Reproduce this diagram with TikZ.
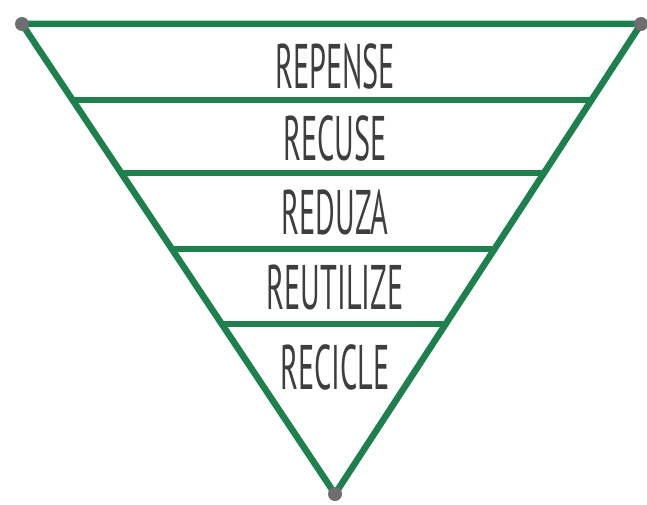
\documentclass[tikz,border=0pt]{standalone}
\usepackage{fontspec}
\newfontfamily\handfont{PT Sans}
\usetikzlibrary{calc}
\definecolor{levelgreen}{RGB}{30,128,76}
\definecolor{dotgray}{RGB}{110,110,112}
\definecolor{inkgray}{RGB}{62,62,64}
\begin{document}
\begin{tikzpicture}[x=1pt, y=1pt]
    \tikzset{
        edgestyle/.style={levelgreen, line width=6.5pt, line cap=round, line join=round},
        dotstyle/.style={circle, fill=dotgray, minimum size=14pt, inner sep=0pt},
        wordtext/.style={inkgray, inner sep=0pt, font=\handfont\fontsize{63}{63}\selectfont, xscale=0.48, transform shape}
    }
    \useasboundingbox (0,0) rectangle (647,504);

    % --- 1. TRIANGLE ---
    \coordinate (tl) at (22,480);
    \coordinate (tr) at (641,480);
    \coordinate (bt) at (335,10);
    \draw[edgestyle] (tl) -- (tr) -- (bt) -- cycle;

    % Niveaux
    \foreach \t in {0.162,0.317,0.479,0.638} {
        \draw[edgestyle] ($(tl)!\t!(bt)$) -- ($(tr)!\t!(bt)$);
    }

    % --- 2. TEXTES ---
    \foreach \n/\y/\w in {repense/438/REPENSE, recuse/366/RECUSE, reduza/292/REDUZA, reutilize/217/REUTILIZE, recicle/137/RECICLE} {
        \node[wordtext] (\n) at (335,\y) {\w};
    }

    % Sommets
    \node[dotstyle] (dtl) at (tl) {};
    \node[dotstyle] (dtr) at (tr) {};
    \node[dotstyle] (dbt) at (bt) {};
\end{tikzpicture}
\end{document}
